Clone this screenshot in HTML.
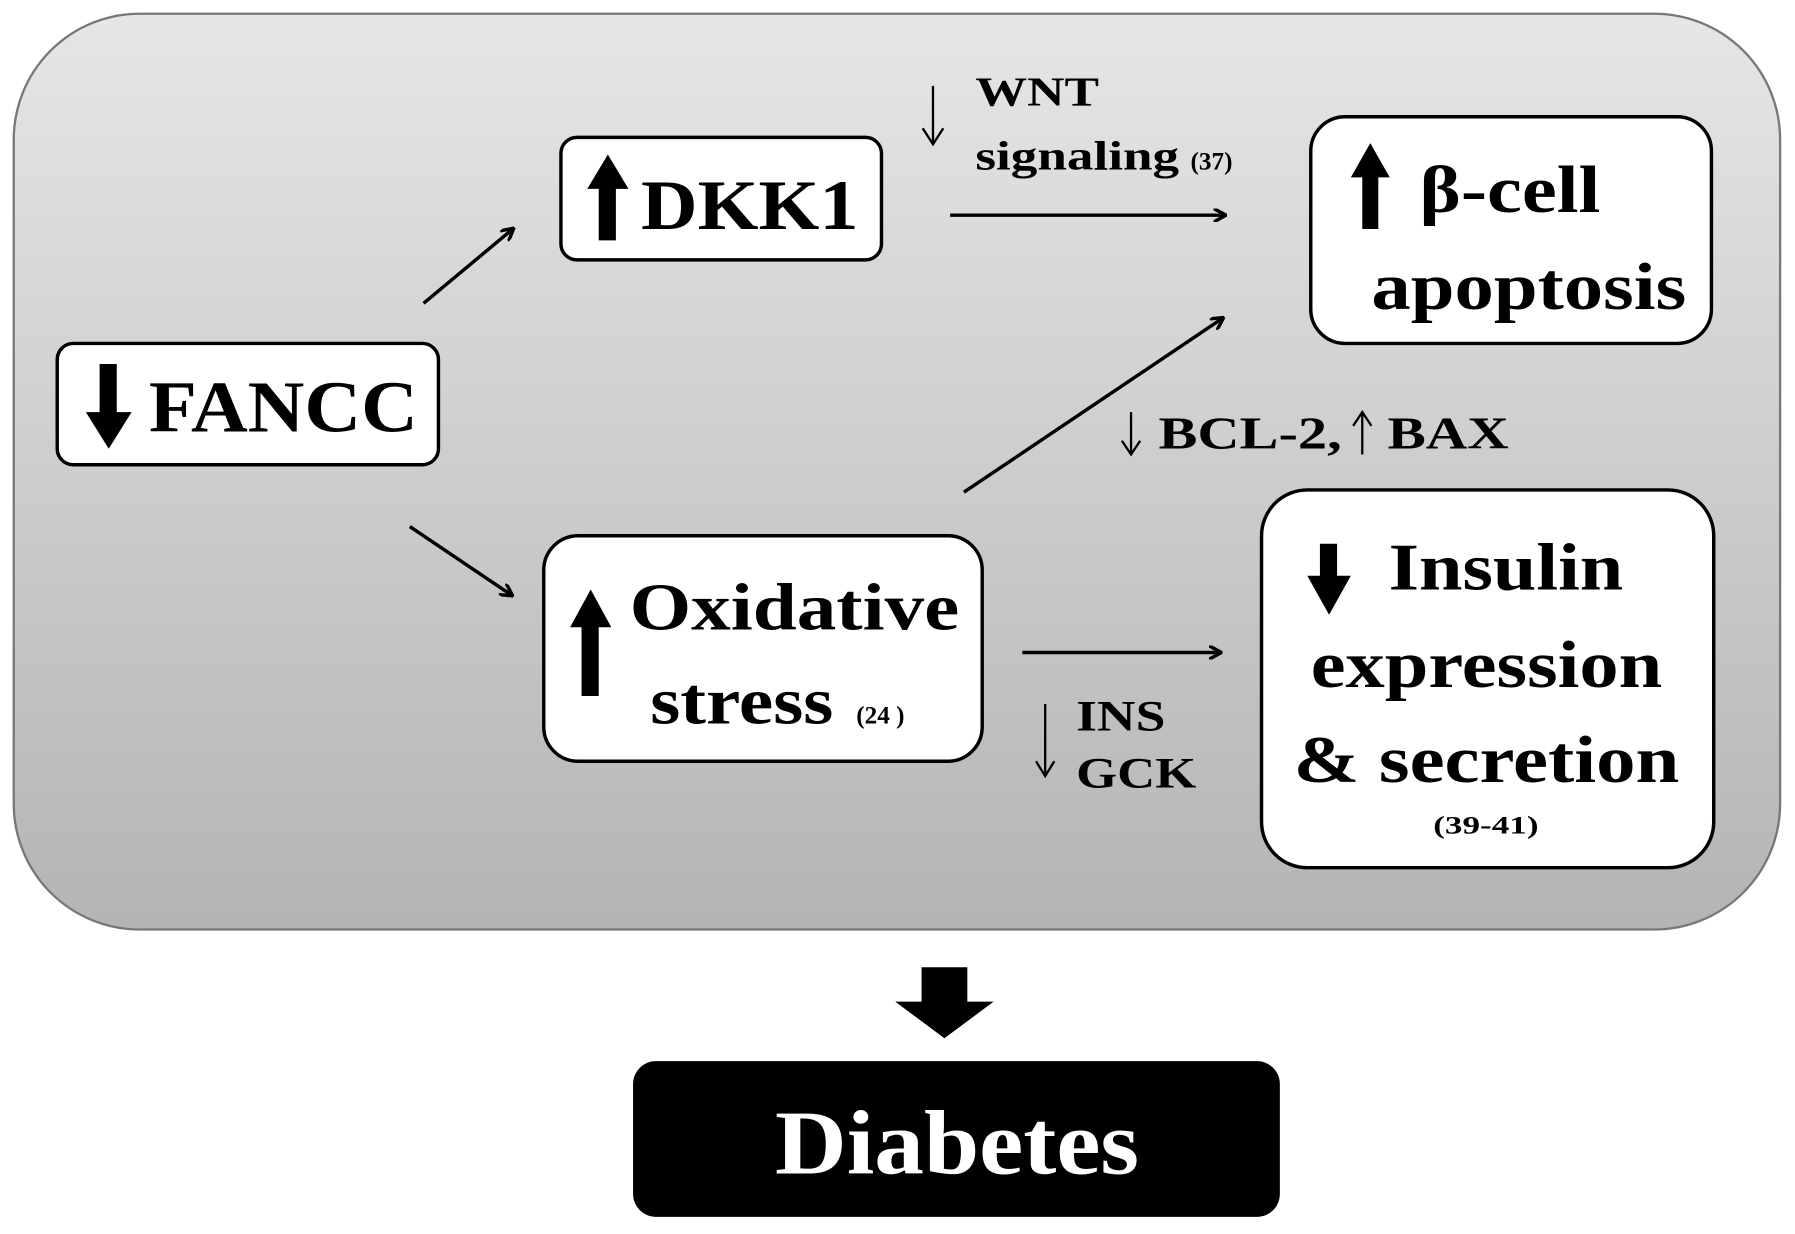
<!DOCTYPE html>
<html><head><meta charset="utf-8"><style>html,body{margin:0;padding:0;background:#fff}svg{display:block}</style></head>
<body>
<svg width="1795" height="1234" viewBox="0 0 1568 1078" preserveAspectRatio="none" xmlns="http://www.w3.org/2000/svg" font-family="Liberation Serif, serif" font-weight="bold">
<defs>
<linearGradient id="g" x1="0" y1="0" x2="0" y2="1"><stop offset="0" stop-color="#e6e6e6"/><stop offset="1" stop-color="#b4b4b4"/></linearGradient>
<marker id="a" markerWidth="12" markerHeight="12" refX="10" refY="6" orient="auto" markerUnits="userSpaceOnUse"><path d="M0,0 L11,6 L0,12" fill="none" stroke="#000" stroke-width="3"/></marker>
</defs>
<rect x="12" y="12" width="1543" height="800" rx="110" fill="url(#g)" stroke="#777" stroke-width="2"/>
<g fill="#fff" stroke="#000" stroke-width="3">
<rect x="50" y="300" width="333" height="106" rx="14"/>
<rect x="490" y="120" width="280" height="107" rx="14"/>
<rect x="1145" y="102" width="350" height="198" rx="30"/>
<rect x="475" y="468" width="383" height="197" rx="30"/>
<rect x="1102" y="428" width="395" height="330" rx="40"/>
</g>
<rect x="553" y="927" width="565" height="136" rx="20" fill="#000"/>
<!-- bold arrows -->
<g fill="#000">
<path d="M87,318 h15 v42 h13 l-20,32 l-20,-32 h12z"/>
<path d="M523,210 h15 v-45 h11 l-18,-30 l-18,30 h10z"/>
<path d="M1190,200 h14 v-45 h10 l-17,-30 l-17,30 h10z"/>
<path d="M508,608 h15 v-60 h11 l-18,-33 l-18,33 h10z"/>
<path d="M1153,475 h15 v28 h12 l-19,34 l-19,-34 h11z"/>
<path d="M805,845 h40 v30 h23 l-43,32 l-43,-32 h23z"/>
</g>
<g stroke="#000" stroke-width="3" marker-end="url(#a)">
<line x1="370" y1="265" x2="448" y2="200"/>
<line x1="358" y1="460" x2="447" y2="520"/>
<line x1="830" y1="188" x2="1070" y2="188"/>
<line x1="842" y1="430" x2="1068" y2="278"/>
<line x1="893" y1="570" x2="1066" y2="570"/>
</g>
<g stroke="#000" stroke-width="2" fill="none">
<path d="M815,75 v50 M806,112 l9,14 l9,-14"/>
<path d="M988,360 v36 M980,385 l8,12 l8,-12"/>
<path d="M1190,397 v-36 M1182,372 l8,-12 l8,12"/>
<path d="M913,615 v62 M905,665 l8,13 l8,-13"/>
</g>
<g fill="#000">
<text x="130" y="377" font-size="64" textLength="235" lengthAdjust="spacingAndGlyphs">FANCC</text>
<text x="560" y="200" font-size="62" textLength="190" lengthAdjust="spacingAndGlyphs">DKK1</text>
<text x="1240" y="185" font-size="58" textLength="158" lengthAdjust="spacingAndGlyphs">β-cell</text>
<text x="1198" y="270" font-size="58" textLength="275" lengthAdjust="spacingAndGlyphs">apoptosis</text>
<text x="550" y="550" font-size="58" textLength="288" lengthAdjust="spacingAndGlyphs">Oxidative</text>
<text x="568" y="632" font-size="58" textLength="160" lengthAdjust="spacingAndGlyphs">stress</text>
<text x="748" y="632" font-size="22">(24 )</text>
<text x="1213" y="515" font-size="58" textLength="205" lengthAdjust="spacingAndGlyphs">Insulin</text>
<text x="1145" y="600" font-size="58" textLength="307" lengthAdjust="spacingAndGlyphs">expression</text>
<text x="1130" y="683" font-size="58" textLength="337" lengthAdjust="spacingAndGlyphs">&amp; secretion</text>
<text x="1252" y="728" font-size="22" textLength="92" lengthAdjust="spacingAndGlyphs">(39-41)</text>
<text x="852" y="92" font-size="36" textLength="108" lengthAdjust="spacingAndGlyphs">WNT</text>
<text x="852" y="148" font-size="36" textLength="178" lengthAdjust="spacingAndGlyphs">signaling</text>
<text x="1040" y="148" font-size="22">(37)</text>
<text x="1012" y="392" font-size="40" textLength="160" lengthAdjust="spacingAndGlyphs">BCL-2,</text>
<text x="1212" y="392" font-size="40" textLength="106" lengthAdjust="spacingAndGlyphs">BAX</text>
<text x="940" y="638" font-size="38" textLength="78" lengthAdjust="spacingAndGlyphs">INS</text>
<text x="940" y="688" font-size="38" textLength="105" lengthAdjust="spacingAndGlyphs">GCK</text>
</g>
<text x="836" y="1025" font-size="80" fill="#fff" text-anchor="middle" textLength="318" lengthAdjust="spacingAndGlyphs">Diabetes</text>
</svg>
</body></html>
